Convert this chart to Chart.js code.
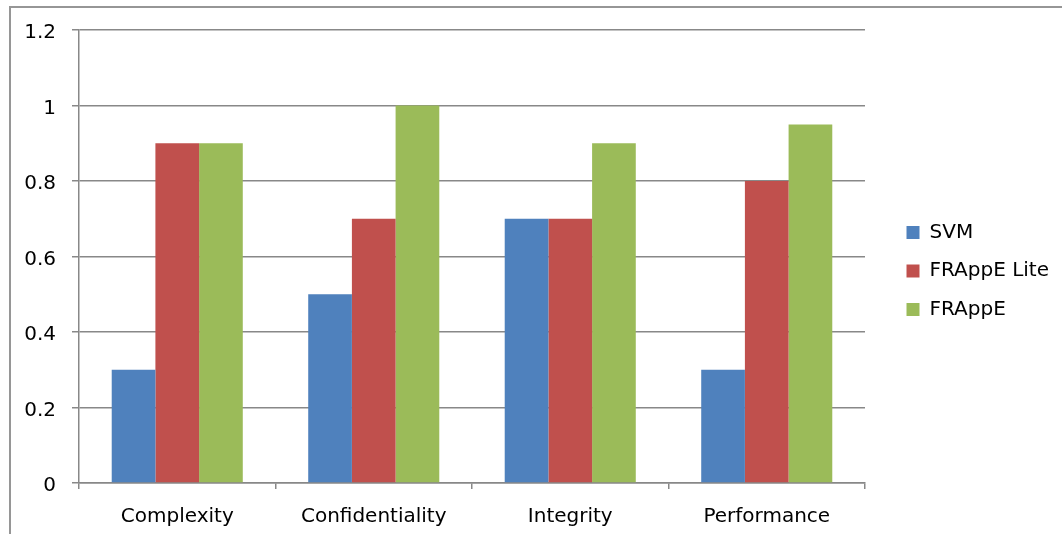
<!DOCTYPE html>
<html>
<head>
<meta charset="utf-8">
<script src="https://cdn.jsdelivr.net/npm/chart.js@4"></script>
<style>
  body { margin: 0; background: #fff; }
  #wrap { position: relative; width: 1062px; height: 534px; overflow: hidden; }
  #frame { position: absolute; left: 9px; top: 6px; width: 1200px; height: 700px; border: 2px solid #969696; }
</style>
</head>
<body>
<div id="wrap">
  <div id="frame"></div>
  <canvas id="chart"></canvas>
</div>
<script>
const categories = ['Complexity', 'Confidentiality', 'Integrity', 'Performance'];
const svmValues = [0.3, 0.5, 0.7, 0.3];
const frappeLiteValues = [0.9, 0.7, 0.7, 0.8];
const frappeValues = [0.9, 1.0, 0.9, 0.95];
const yTickLabels = ['0', '0.2', '0.4', '0.6', '0.8', '1', '1.2'];

const gridColor = '#888888';
const font = { family: 'DejaVu Sans', size: 20 };

const ctx = document.getElementById('chart').getContext('2d');
const chart = new Chart(ctx, {
    type: 'bar',
    data: {
        labels: categories,
        datasets: [
            { label: 'SVM', data: svmValues, backgroundColor: '#4F81BD' },
            { label: 'FRAppE Lite', data: frappeLiteValues, backgroundColor: '#C0504D' },
            { label: 'FRAppE', data: frappeValues, backgroundColor: '#9BBB59' }
        ]
    },
    options: {
        responsive: true,
        maintainAspectRatio: false,
        animation: false,
        datasets: {
            bar: { categoryPercentage: 0.667, barPercentage: 1.0, borderWidth: 0 }
        },
        layout: { padding: { top: 30, right: 3, bottom: 0, left: 0 } },
        plugins: {
            tooltip: { enabled: false },
            legend: {
                position: 'right',
                fullSize: false,
                title: { display: true, text: '', font: { size: 1, lineHeight: 1 }, padding: { top: 14, bottom: 14 } },
                labels: {
                    color: '#000',
                    font: font,
                    boxWidth: 13,
                    boxHeight: 13,
                    padding: 18.5
                }
            }
        },
        scales: {
            x: {
                grid: { drawOnChartArea: false, drawTicks: true, tickLength: 6, color: gridColor, lineWidth: 1.5 },
                border: { color: gridColor, width: 1.5 },
                ticks: { color: '#000', font: font, padding: 16 },
                afterFit: function(scale) { scale.height = 51; }
            },
            y: {
                min: 0,
                max: 1.2,
                ticks: {
                    stepSize: 0.2,
                    color: '#000',
                    font: font,
                    padding: 16,
                    labelOffset: 3,
                    callback: function(value, index) { return yTickLabels[index]; }
                },
                grid: { color: gridColor, lineWidth: 1.5, tickLength: 7 },
                border: { color: gridColor, width: 1.5 },
                afterFit: function(scale) { scale.width = 79; }
            },
            spacer: {
                position: 'right',
                grid: { display: false },
                border: { display: false },
                ticks: { display: false },
                afterFit: function(scale) { scale.width = 23; }
            }
        }
    }
});
</script>
</body>
</html>
